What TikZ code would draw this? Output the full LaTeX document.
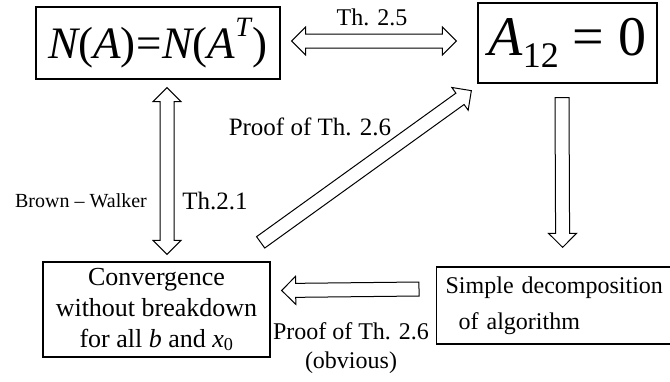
\documentclass[tikz,border=0pt]{standalone}
\usepackage{fontspec}
\setmainfont{Liberation Serif}
\usetikzlibrary{calc}

% 空心箭头
\newcommand{\hollowarrow}[2]{%
	\path let \p1=(#1), \p2=(#2),
		\n1={atan2(\y2-\y1,\x2-\x1)}, \n2={veclen(\x2-\x1,\y2-\y1)} in
		\pgfextra{\xdef\hax{\x1}\xdef\hay{\y1}\xdef\haang{\n1}\xdef\halen{\n2}};
	\begin{scope}[shift={(\hax,\hay)},rotate=\haang,x=1pt,y=1pt]
		\draw[arrowline] (0,-7) -- (\halen-14,-7) -- (\halen-14,-14) -- (\halen,0)
			-- (\halen-14,14) -- (\halen-14,7) -- (0,7) -- cycle;
	\end{scope}}
% 空心双向箭头
\newcommand{\hollowdarrow}[2]{%
	\path let \p1=(#1), \p2=(#2),
		\n1={atan2(\y2-\y1,\x2-\x1)}, \n2={veclen(\x2-\x1,\y2-\y1)} in
		\pgfextra{\xdef\hax{\x1}\xdef\hay{\y1}\xdef\haang{\n1}\xdef\halen{\n2}};
	\begin{scope}[shift={(\hax,\hay)},rotate=\haang,x=1pt,y=1pt]
		\draw[arrowline] (0,0) -- (14,-14) -- (14,-7) -- (\halen-14,-7) -- (\halen-14,-14)
			-- (\halen,0) -- (\halen-14,14) -- (\halen-14,7) -- (14,7) -- (14,14) -- cycle;
	\end{scope}}

\begin{document}
\begin{tikzpicture}[x=1pt,y=-1pt,
		box/.style={draw,line width=1.3pt,inner sep=0pt},
		arrowline/.style={draw,line width=1pt,fill=white,line join=miter},
		lbl/.style={inner sep=0pt,font=\fontsize{25}{29}\selectfont}]
	\useasboundingbox[fill=white] (0,0) rectangle (670,381);
	% 方框
	\node[box,minimum width=244pt,minimum height=72pt,font=\fontsize{45}{48}\selectfont]
		(nullsp) at (158,43) {\itshape N\upshape(\itshape A\upshape)\kern1pt=\kern1pt\itshape N\upshape(\itshape A\upshape\raisebox{0.5em}{\fontsize{28}{28}\selectfont\itshape T}\kern2pt)\hspace{10pt}};
	\node[box,minimum width=179pt,minimum height=80pt,font=\fontsize{56}{58}\selectfont]
		(azero) at (567.5,43) {\itshape A\upshape\raisebox{-0.22em}{\fontsize{36}{36}\selectfont 12} = 0\hspace{14pt}};
	\node[box,minimum width=227pt,minimum height=95pt,align=center,
		font=\fontsize{26}{31}\selectfont] (conv) at (156.5,309.5)
		{Convergence\\without breakdown\\for all \textit{b} and \textit{x}\textsubscript{0}};
	\node[box,anchor=west,text width=240pt,inner xsep=9pt,minimum height=77pt,align=left,
		font=\fontsize{24}{36}\selectfont] (decomp) at (436,305.5)
		{Simple decomposition\\\hspace*{13pt}of algorithm};
	% 箭头
	\hollowdarrow{[xshift=11pt,yshift=2pt]nullsp.east}{[xshift=-21pt,yshift=2pt]azero.west}
	\hollowdarrow{[xshift=9pt,yshift=-8pt]nullsp.south}{[xshift=10.5pt,yshift=7pt]conv.north}
	\hollowarrow{[xshift=-10pt,yshift=19pt]conv.north east}{[xshift=-6pt,yshift=-7pt]azero.south west}
	\hollowarrow{[xshift=-5.5pt,yshift=-14pt]azero.south}{[xshift=-3pt,yshift=19pt]decomp.north}
	\hollowarrow{[xshift=-17pt,yshift=16.5pt]decomp.west}{[xshift=11pt,yshift=19pt]conv.east}
	% 标注
	\node[lbl,font=\fontsize{24}{27}\selectfont] (th25) at (372,17) {Th. 2.5};
	\node[lbl,font=\fontsize{20}{23}\selectfont] (bw) at (81,201) {Brown -- Walker};
	\node[lbl] (th21) at (215,201) {Th.2.1};
	\node[lbl] (pf1) at (310,127) {Proof of Th. 2.6};
	\node[lbl,align=center,font=\fontsize{24}{29}\selectfont] (pf2) at (351,348) {Proof of Th. 2.6\\(obvious)};
\end{tikzpicture}
\end{document}
